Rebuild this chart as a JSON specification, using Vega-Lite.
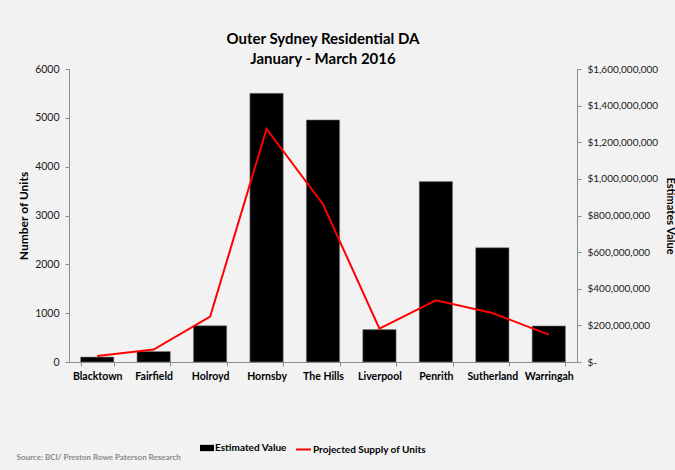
{
  "$schema": "https://vega.github.io/schema/vega-lite/v6.json",
  "width": 508,
  "height": 293,
  "autosize": {"type": "none"},
  "padding": {"left": 69, "top": 69, "right": 98, "bottom": 108},
  "background": "#f2f2f2",
  "config": {"view": {"stroke": null}, "font": "Lato"},
  "title": {
    "text": ["Outer Sydney Residential DA", "January - March 2016"],
    "fontSize": 15,
    "fontWeight": "bold",
    "font": "Lato",
    "color": "black",
    "lineHeight": 20,
    "offset": -3,
    "anchor": "middle"
  },
  "data": {
    "values": [
      {"district": "Blacktown", "estimated_value": 27000000, "units": 125},
      {"district": "Fairfield", "estimated_value": 57000000, "units": 254},
      {"district": "Holroyd", "estimated_value": 198000000, "units": 928},
      {"district": "Hornsby", "estimated_value": 1467000000, "units": 4773},
      {"district": "The Hills", "estimated_value": 1322000000, "units": 3230},
      {"district": "Liverpool", "estimated_value": 177000000, "units": 683},
      {"district": "Penrith", "estimated_value": 985000000, "units": 1262},
      {"district": "Sutherland", "estimated_value": 624000000, "units": 1004},
      {"district": "Warringah", "estimated_value": 197000000, "units": 560}
    ]
  },
  "layer": [
    {
      "mark": {"type": "bar", "stroke": "#7f7f7f", "strokeWidth": 0.6},
      "encoding": {
        "x": {
          "field": "district",
          "type": "nominal",
          "sort": null,
          "scale": {"paddingInner": 0.41, "paddingOuter": 0.205},
          "axis": {
            "orient": "bottom",
            "labelAngle": 0,
            "labelFont": "Lato",
            "labelFontSize": 10.5,
            "labelFontWeight": "bold",
            "labelColor": "black",
            "labelPadding": 5,
            "domainColor": "#8c8c8c",
            "tickColor": "#8c8c8c",
            "tickSize": 4,
            "tickBand": "extent",
            "title": "Source: BCI/ Preston Rowe Paterson Research",
            "titleAnchor": "start",
            "titleX": -53,
            "titleY": 95,
            "titleAlign": "left",
            "titleBaseline": "middle",
            "titleFont": "Lato",
            "titleFontSize": 8,
            "titleFontWeight": "bold",
            "titleColor": "#8a8a8a"
          }
        },
        "y": {
          "field": "estimated_value",
          "type": "quantitative",
          "scale": {"domain": [0, 1600000000]},
          "axis": {
            "orient": "right",
            "values": [0, 200000000, 400000000, 600000000, 800000000, 1000000000, 1200000000, 1400000000, 1600000000],
            "labelExpr": "datum.value === 0 ? '$-' : '$' + format(datum.value, ',')",
            "grid": false,
            "labelFont": "Lato",
            "labelFontSize": 10,
            "labelColor": "#1a1a1a",
            "labelPadding": 6,
            "domainColor": "#8c8c8c",
            "tickColor": "#8c8c8c",
            "tickSize": 4,
            "title": "Estimates Value",
            "titleAngle": 90,
            "titleFont": "Lato",
            "titleFontSize": 11,
            "titleFontWeight": "bold",
            "titleColor": "black",
            "titlePadding": 7
          }
        },
        "fill": {
          "datum": "Estimated Value",
          "scale": {"domain": ["Estimated Value"], "range": ["black"]},
          "legend": {
            "orient": "none",
            "legendX": 131,
            "legendY": 372,
            "direction": "horizontal",
            "title": null,
            "symbolType": "M-1,-0.45H1V0.45H-1Z",
            "symbolSize": 196,
            "symbolStrokeWidth": 0,
            "symbolOpacity": 1,
            "labelFont": "Lato",
            "labelFontSize": 10,
            "labelFontWeight": "bold",
            "labelColor": "black",
            "labelOffset": 1
          }
        }
      }
    },
    {
      "mark": {"type": "line", "strokeWidth": 2},
      "encoding": {
        "x": {"field": "district", "type": "nominal", "sort": null},
        "y": {
          "field": "units",
          "type": "quantitative",
          "scale": {"domain": [0, 6000]},
          "axis": {
            "orient": "left",
            "values": [0, 1000, 2000, 3000, 4000, 5000, 6000],
            "format": "d",
            "grid": false,
            "labelFont": "Lato",
            "labelFontSize": 10.5,
            "labelColor": "#1a1a1a",
            "labelPadding": 6,
            "domainColor": "#8c8c8c",
            "tickColor": "#8c8c8c",
            "tickSize": 4,
            "title": "Number of Units",
            "titleFont": "Lato",
            "titleFontSize": 12,
            "titleFontWeight": "bold",
            "titleColor": "black",
            "titlePadding": 4
          }
        },
        "stroke": {
          "datum": "Projected Supply of Units",
          "scale": {"domain": ["Projected Supply of Units"], "range": ["red"]},
          "legend": {
            "orient": "none",
            "legendX": 226,
            "legendY": 372,
            "direction": "horizontal",
            "title": null,
            "symbolType": "stroke",
            "symbolSize": 225,
            "symbolStrokeWidth": 2,
            "labelFont": "Lato",
            "labelFontSize": 10,
            "labelFontWeight": "bold",
            "labelColor": "black",
            "labelOffset": 1
          }
        }
      }
    }
  ],
  "resolve": {"scale": {"y": "independent"}}
}
